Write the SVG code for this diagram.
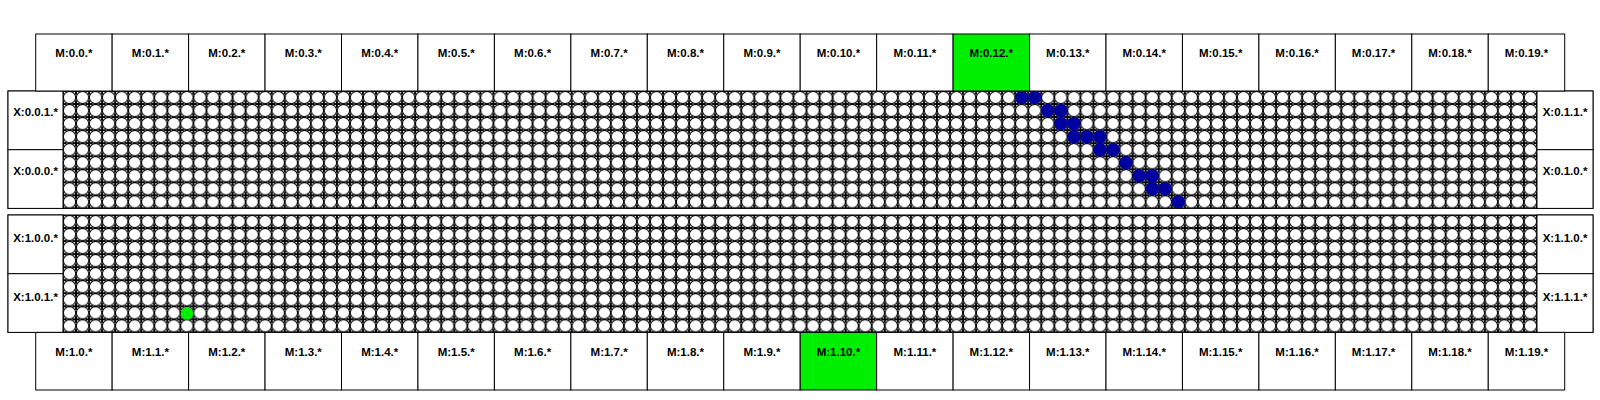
<svg xmlns="http://www.w3.org/2000/svg" xmlns:xlink="http://www.w3.org/1999/xlink" width="1600" height="400" viewBox="0 0 1600 400">
<style>
.box{fill:#fff;stroke:#000;stroke-width:1}
.hl{fill:#00ee00;stroke:#000;stroke-width:1}
.lbl{font-family:"Liberation Sans",Arial,sans-serif;font-size:11.5px;font-weight:bold;text-anchor:middle;fill:#000}
.blue{fill:#0000a0}
.green{fill:#00ee00}
.frame{fill:none;stroke:#000;stroke-width:1}
</style>
<defs>
<pattern id="cellsTop" patternUnits="userSpaceOnUse" x="63" y="91" width="13.044" height="13.044">
<rect width="13.044" height="13.044" fill="#fff"/>
<circle cx="6.522" cy="6.522" r="6.2" fill="#fff" stroke="#000" stroke-width="1"/>
<path d="M-3.5,0H3.5M0,-3.5V3.5M9.544,0H16.544M13.044,-3.5V3.5M-3.5,13.044H3.5M0,9.544V16.544M9.544,13.044H16.544M13.044,9.544V16.544" stroke="#000" stroke-width="2"/>
</pattern>
<pattern id="cellsBot" href="#cellsTop" xlink:href="#cellsTop" x="63" y="215"/>
</defs>
<rect width="1600" height="400" fill="#fff"/>

<g id="grid-top">
<rect x="63" y="91" width="1474" height="117.4" fill="url(#cellsTop)"/>
<circle class="blue" cx="1021.7" cy="97.5" r="6.7"/>
<circle class="blue" cx="1034.8" cy="97.5" r="6.7"/>
<circle class="blue" cx="1047.8" cy="110.6" r="6.7"/>
<circle class="blue" cx="1060.9" cy="110.6" r="6.7"/>
<circle class="blue" cx="1060.9" cy="123.6" r="6.7"/>
<circle class="blue" cx="1073.9" cy="123.6" r="6.7"/>
<circle class="blue" cx="1073.9" cy="136.7" r="6.7"/>
<circle class="blue" cx="1086.9" cy="136.7" r="6.7"/>
<circle class="blue" cx="1100.0" cy="136.7" r="6.7"/>
<circle class="blue" cx="1100.0" cy="149.7" r="6.7"/>
<circle class="blue" cx="1113.0" cy="149.7" r="6.7"/>
<circle class="blue" cx="1126.1" cy="162.7" r="6.7"/>
<circle class="blue" cx="1139.1" cy="175.8" r="6.7"/>
<circle class="blue" cx="1152.2" cy="175.8" r="6.7"/>
<circle class="blue" cx="1152.2" cy="188.8" r="6.7"/>
<circle class="blue" cx="1165.2" cy="188.8" r="6.7"/>
<circle class="blue" cx="1178.3" cy="201.9" r="6.7"/>
<rect class="frame" x="8" y="91" width="1585" height="117.4"/>
</g>

<g id="grid-bottom">
<rect x="63" y="215" width="1474" height="117.4" fill="url(#cellsBot)"/>
<circle class="green" cx="186.9" cy="313.5" r="6.3"/>
<rect class="frame" x="8" y="215" width="1585" height="117.4"/>
</g>

<g id="X-0-0-1"><rect class="box" x="8" y="91" width="55" height="58.7"/><text class="lbl" x="35.5" y="115.5">X:0.0.1.*</text></g>
<g id="X-0-0-0"><rect class="box" x="8" y="149.7" width="55" height="58.7"/><text class="lbl" x="35.5" y="174.5">X:0.0.0.*</text></g>
<g id="X-0-1-1"><rect class="box" x="1537" y="91" width="56" height="58.7"/><text class="lbl" x="1565" y="115.5">X:0.1.1.*</text></g>
<g id="X-0-1-0"><rect class="box" x="1537" y="149.7" width="56" height="58.7"/><text class="lbl" x="1565" y="174.5">X:0.1.0.*</text></g>
<g id="X-1-0-0"><rect class="box" x="8" y="215" width="55" height="58.7"/><text class="lbl" x="35.5" y="242">X:1.0.0.*</text></g>
<g id="X-1-0-1"><rect class="box" x="8" y="273.7" width="55" height="58.7"/><text class="lbl" x="35.5" y="300.5">X:1.0.1.*</text></g>
<g id="X-1-1-0"><rect class="box" x="1537" y="215" width="56" height="58.7"/><text class="lbl" x="1565" y="242">X:1.1.0.*</text></g>
<g id="X-1-1-1"><rect class="box" x="1537" y="273.7" width="56" height="58.7"/><text class="lbl" x="1565" y="300.5">X:1.1.1.*</text></g>

<g id="M-0-0"><rect class="box" x="35.7" y="34" width="76.45" height="57"/><text class="lbl" x="73.9" y="57">M:0.0.*</text></g>
<g id="M-0-1"><rect class="box" x="112.15" y="34" width="76.45" height="57"/><text class="lbl" x="150.4" y="57">M:0.1.*</text></g>
<g id="M-0-2"><rect class="box" x="188.6" y="34" width="76.45" height="57"/><text class="lbl" x="226.8" y="57">M:0.2.*</text></g>
<g id="M-0-3"><rect class="box" x="265.05" y="34" width="76.45" height="57"/><text class="lbl" x="303.3" y="57">M:0.3.*</text></g>
<g id="M-0-4"><rect class="box" x="341.5" y="34" width="76.45" height="57"/><text class="lbl" x="379.7" y="57">M:0.4.*</text></g>
<g id="M-0-5"><rect class="box" x="417.95" y="34" width="76.45" height="57"/><text class="lbl" x="456.2" y="57">M:0.5.*</text></g>
<g id="M-0-6"><rect class="box" x="494.4" y="34" width="76.45" height="57"/><text class="lbl" x="532.6" y="57">M:0.6.*</text></g>
<g id="M-0-7"><rect class="box" x="570.85" y="34" width="76.45" height="57"/><text class="lbl" x="609.1" y="57">M:0.7.*</text></g>
<g id="M-0-8"><rect class="box" x="647.3" y="34" width="76.45" height="57"/><text class="lbl" x="685.5" y="57">M:0.8.*</text></g>
<g id="M-0-9"><rect class="box" x="723.75" y="34" width="76.45" height="57"/><text class="lbl" x="762" y="57">M:0.9.*</text></g>
<g id="M-0-10"><rect class="box" x="800.2" y="34" width="76.45" height="57"/><text class="lbl" x="838.4" y="57">M:0.10.*</text></g>
<g id="M-0-11"><rect class="box" x="876.65" y="34" width="76.45" height="57"/><text class="lbl" x="914.9" y="57">M:0.11.*</text></g>
<g id="M-0-12"><rect class="hl" x="953.1" y="34" width="76.45" height="57"/><text class="lbl" x="991.3" y="57">M:0.12.*</text></g>
<g id="M-0-13"><rect class="box" x="1029.55" y="34" width="76.45" height="57"/><text class="lbl" x="1067.8" y="57">M:0.13.*</text></g>
<g id="M-0-14"><rect class="box" x="1106" y="34" width="76.45" height="57"/><text class="lbl" x="1144.2" y="57">M:0.14.*</text></g>
<g id="M-0-15"><rect class="box" x="1182.45" y="34" width="76.45" height="57"/><text class="lbl" x="1220.7" y="57">M:0.15.*</text></g>
<g id="M-0-16"><rect class="box" x="1258.9" y="34" width="76.45" height="57"/><text class="lbl" x="1297.1" y="57">M:0.16.*</text></g>
<g id="M-0-17"><rect class="box" x="1335.35" y="34" width="76.45" height="57"/><text class="lbl" x="1373.6" y="57">M:0.17.*</text></g>
<g id="M-0-18"><rect class="box" x="1411.8" y="34" width="76.45" height="57"/><text class="lbl" x="1450" y="57">M:0.18.*</text></g>
<g id="M-0-19"><rect class="box" x="1488.25" y="34" width="76.45" height="57"/><text class="lbl" x="1526.5" y="57">M:0.19.*</text></g>

<g id="M-1-0"><rect class="box" x="35.7" y="332.4" width="76.45" height="57.6"/><text class="lbl" x="73.9" y="356">M:1.0.*</text></g>
<g id="M-1-1"><rect class="box" x="112.15" y="332.4" width="76.45" height="57.6"/><text class="lbl" x="150.4" y="356">M:1.1.*</text></g>
<g id="M-1-2"><rect class="box" x="188.6" y="332.4" width="76.45" height="57.6"/><text class="lbl" x="226.8" y="356">M:1.2.*</text></g>
<g id="M-1-3"><rect class="box" x="265.05" y="332.4" width="76.45" height="57.6"/><text class="lbl" x="303.3" y="356">M:1.3.*</text></g>
<g id="M-1-4"><rect class="box" x="341.5" y="332.4" width="76.45" height="57.6"/><text class="lbl" x="379.7" y="356">M:1.4.*</text></g>
<g id="M-1-5"><rect class="box" x="417.95" y="332.4" width="76.45" height="57.6"/><text class="lbl" x="456.2" y="356">M:1.5.*</text></g>
<g id="M-1-6"><rect class="box" x="494.4" y="332.4" width="76.45" height="57.6"/><text class="lbl" x="532.6" y="356">M:1.6.*</text></g>
<g id="M-1-7"><rect class="box" x="570.85" y="332.4" width="76.45" height="57.6"/><text class="lbl" x="609.1" y="356">M:1.7.*</text></g>
<g id="M-1-8"><rect class="box" x="647.3" y="332.4" width="76.45" height="57.6"/><text class="lbl" x="685.5" y="356">M:1.8.*</text></g>
<g id="M-1-9"><rect class="box" x="723.75" y="332.4" width="76.45" height="57.6"/><text class="lbl" x="762" y="356">M:1.9.*</text></g>
<g id="M-1-10"><rect class="hl" x="800.2" y="332.4" width="76.45" height="57.6"/><text class="lbl" x="838.4" y="356">M:1.10.*</text></g>
<g id="M-1-11"><rect class="box" x="876.65" y="332.4" width="76.45" height="57.6"/><text class="lbl" x="914.9" y="356">M:1.11.*</text></g>
<g id="M-1-12"><rect class="box" x="953.1" y="332.4" width="76.45" height="57.6"/><text class="lbl" x="991.3" y="356">M:1.12.*</text></g>
<g id="M-1-13"><rect class="box" x="1029.55" y="332.4" width="76.45" height="57.6"/><text class="lbl" x="1067.8" y="356">M:1.13.*</text></g>
<g id="M-1-14"><rect class="box" x="1106" y="332.4" width="76.45" height="57.6"/><text class="lbl" x="1144.2" y="356">M:1.14.*</text></g>
<g id="M-1-15"><rect class="box" x="1182.45" y="332.4" width="76.45" height="57.6"/><text class="lbl" x="1220.7" y="356">M:1.15.*</text></g>
<g id="M-1-16"><rect class="box" x="1258.9" y="332.4" width="76.45" height="57.6"/><text class="lbl" x="1297.1" y="356">M:1.16.*</text></g>
<g id="M-1-17"><rect class="box" x="1335.35" y="332.4" width="76.45" height="57.6"/><text class="lbl" x="1373.6" y="356">M:1.17.*</text></g>
<g id="M-1-18"><rect class="box" x="1411.8" y="332.4" width="76.45" height="57.6"/><text class="lbl" x="1450" y="356">M:1.18.*</text></g>
<g id="M-1-19"><rect class="box" x="1488.25" y="332.4" width="76.45" height="57.6"/><text class="lbl" x="1526.5" y="356">M:1.19.*</text></g>

<g id="connectors"/>
</svg>
